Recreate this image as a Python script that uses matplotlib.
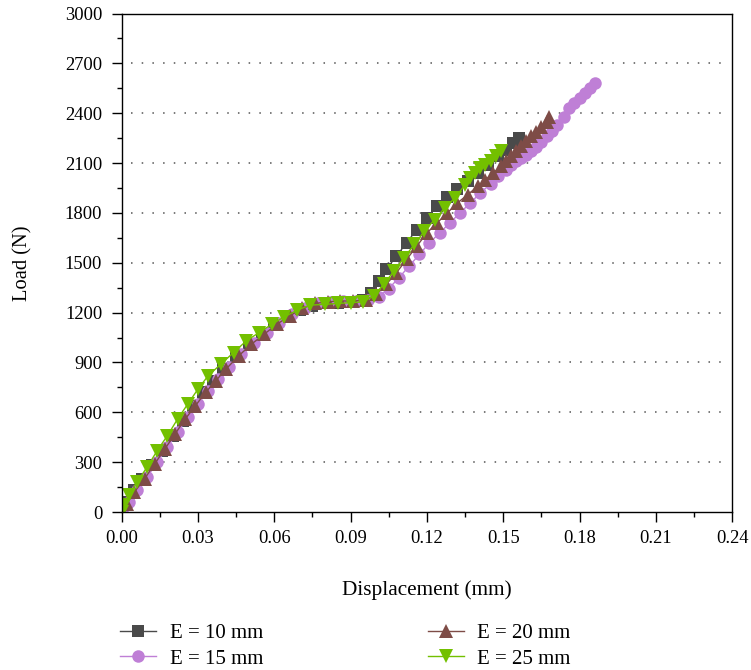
import matplotlib.pyplot as plt
from matplotlib.ticker import MultipleLocator

# load-displacement curves for four spacings E
d_10 = [0.000, 0.002, 0.005, 0.008, 0.012, 0.016, 0.020, 0.024, 0.028, 0.032, 0.036,
        0.040, 0.045, 0.050, 0.055, 0.060, 0.065, 0.070, 0.075, 0.080, 0.085, 0.090,
        0.095, 0.098, 0.101, 0.104, 0.108, 0.112, 0.116, 0.120, 0.124, 0.128, 0.132,
        0.136, 0.140, 0.144, 0.148, 0.151, 0.154, 0.156]
load_10 = [0, 60, 130, 200, 280, 370, 460, 550, 640, 720, 790,
           860, 940, 1010, 1070, 1130, 1180, 1215, 1240, 1255, 1260, 1265,
           1275, 1320, 1390, 1460, 1540, 1620, 1700, 1770, 1840, 1895, 1945,
           1990, 2040, 2090, 2140, 2180, 2220, 2250]

d_15 = [0.000, 0.003, 0.006, 0.010, 0.014, 0.018, 0.022, 0.026, 0.030, 0.034, 0.038,
        0.042, 0.047, 0.052, 0.057, 0.062, 0.067, 0.072, 0.077, 0.082, 0.087, 0.092,
        0.097, 0.101, 0.105, 0.109, 0.113, 0.117, 0.121, 0.125, 0.129, 0.133, 0.137,
        0.141, 0.145, 0.148, 0.151, 0.153, 0.155, 0.157, 0.159, 0.161, 0.163, 0.165,
        0.167, 0.169, 0.171, 0.174, 0.176, 0.178, 0.180, 0.182, 0.184, 0.186]
load_15 = [0, 60, 130, 210, 300, 390, 480, 570, 650, 730, 800,
           870, 950, 1020, 1080, 1140, 1190, 1230, 1255, 1265, 1270, 1270,
           1275, 1295, 1345, 1410, 1480, 1550, 1620, 1680, 1740, 1800, 1860,
           1920, 1975, 2020, 2060, 2090, 2110, 2130, 2150, 2170, 2195, 2225,
           2260, 2295, 2330, 2380, 2430, 2460, 2490, 2520, 2550, 2580]

d_20 = [0.000, 0.002, 0.005, 0.009, 0.013, 0.017, 0.021, 0.025, 0.029, 0.033, 0.037,
        0.041, 0.046, 0.051, 0.056, 0.061, 0.066, 0.071, 0.076, 0.081, 0.086, 0.091,
        0.096, 0.100, 0.104, 0.108, 0.112, 0.116, 0.120, 0.124, 0.128, 0.132, 0.136,
        0.140, 0.143, 0.146, 0.149, 0.151, 0.153, 0.155, 0.157, 0.159, 0.161, 0.163,
        0.165, 0.167, 0.168]
load_20 = [0, 50, 120, 200, 290, 380, 470, 560, 640, 720, 790,
           860, 940, 1010, 1070, 1130, 1180, 1225, 1255, 1265, 1270, 1270,
           1275, 1310, 1370, 1440, 1520, 1600, 1680, 1740, 1800, 1860, 1910,
           1960, 2000, 2040, 2080, 2110, 2140, 2170, 2200, 2230, 2260, 2290,
           2320, 2350, 2380]

d_25 = [0.000, 0.001, 0.003, 0.006, 0.010, 0.014, 0.018, 0.022, 0.026, 0.030, 0.034,
        0.039, 0.044, 0.049, 0.054, 0.059, 0.064, 0.069, 0.074, 0.080, 0.085, 0.090,
        0.095, 0.099, 0.103, 0.107, 0.111, 0.115, 0.119, 0.123, 0.127, 0.131, 0.135,
        0.137, 0.139, 0.141, 0.143, 0.145, 0.147, 0.149]
load_25 = [0, 40, 100, 180, 270, 370, 460, 560, 650, 740, 820,
           890, 960, 1030, 1080, 1130, 1175, 1215, 1245, 1250, 1255, 1260,
           1265, 1300, 1370, 1450, 1530, 1610, 1690, 1760, 1830, 1890, 1970,
           2010, 2040, 2070, 2090, 2110, 2140, 2170]

series = [
    ('E = 10 mm', d_10, load_10, 's', '#4a4a4a', 8.5),
    ('E = 15 mm', d_15, load_15, 'o', '#bf7fd6', 9.0),
    ('E = 20 mm', d_20, load_20, '^', '#7e4c47', 9.5),
    ('E = 25 mm', d_25, load_25, 'v', '#73c000', 9.5),
]

plt.rcParams['font.family'] = ['Liberation Serif', 'DejaVu Serif']

fig = plt.figure(figsize=(7.51, 6.70), dpi=100)
ax = fig.add_axes([0.162, 0.2358, 0.813, 0.744])

for label, x, y, m, c, ms in series:
    ax.plot(x, y, color=c, marker=m, markersize=ms, linewidth=1.0,
            markeredgewidth=0, label=label)

ax.set_xlim(0, 0.24)
ax.set_ylim(0, 3000)
ax.xaxis.set_major_locator(MultipleLocator(0.03))
ax.xaxis.set_minor_locator(MultipleLocator(0.015))
ax.yaxis.set_major_locator(MultipleLocator(300))
ax.yaxis.set_minor_locator(MultipleLocator(150))
ax.set_xticklabels(['%.2f' % v for v in ax.get_xticks()])
ax.tick_params(which='major', direction='out', length=7, width=1, labelsize=13.3,
               top=False, right=False)
ax.tick_params(axis='y', which='major', pad=7)
ax.tick_params(axis='x', which='major', pad=6)
ax.tick_params(which='minor', direction='out', length=3.6, width=1, top=False, right=False)
ax.set_xlim(0, 0.24)

for v in range(300, 3000, 300):
    ax.axhline(v, color='#555555', linestyle=(0, (1, 6)), linewidth=1.1, zorder=0,
               xmin=0.015, xmax=0.985)

for s in ax.spines.values():
    s.set_linewidth(1.0)

ax.set_xlabel('Displacement (mm)', fontsize=15.3, labelpad=24)
ax.set_ylabel('Load (N)', fontsize=14.8, labelpad=23)

fig.legend(loc='upper left', bbox_to_anchor=(0.16, 0.069), ncol=2, frameon=False,
           fontsize=15, columnspacing=7.9, handlelength=1.73, handletextpad=0.65,
           labelspacing=0.28, borderaxespad=0, borderpad=0)

fig.savefig('out.png', dpi=100)
